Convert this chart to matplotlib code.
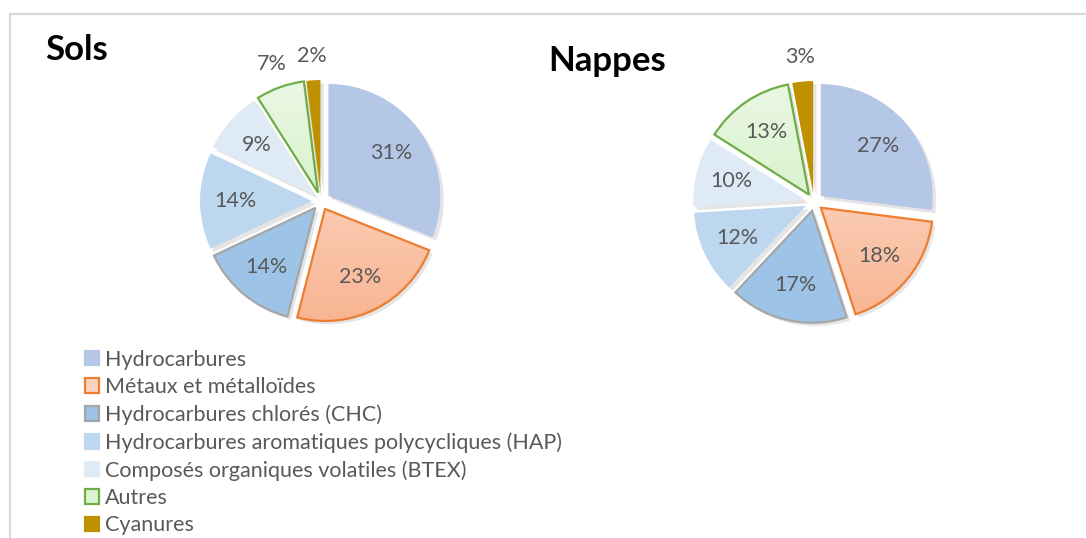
import matplotlib.pyplot as plt
import numpy as np
from matplotlib.patches import Patch, Rectangle
from matplotlib.colors import LinearSegmentedColormap

plt.rcParams['font.family'] = ['Lato', 'DejaVu Sans']

categories = ['Hydrocarbures', 'Métaux et métalloïdes', 'Hydrocarbures chlorés (CHC)',
              'Hydrocarbures aromatiques polycycliques (HAP)',
              'Composés organiques volatiles (BTEX)', 'Autres', 'Cyanures']
sols = [31, 23, 14, 14, 9, 7, 2]
nappes = [27, 18, 17, 12, 10, 13, 3]

colors = ['#B4C7E7', '#FBD3C0', '#9DC3E6', '#BDD7EE', '#DEEBF7', '#DDF3D3', '#BF9000']
edges = ['none', '#ED7D31', '#A6A6A6', 'none', 'none', '#70AD47', 'none']
gradients = {1: ('#FDE6DA', '#F8B28E'), 5: ('#EDF8E7', '#C2EDB0')}

W, H = 1086, 538
fig = plt.figure(figsize=(W / 100, H / 100), dpi=100)

# light frame around the chart (cut on right and bottom)
fig.patches.append(Rectangle((10 / W, -0.1), 1.2, 1 - 14 / H + 0.1, transform=fig.transFigure,
                             fill=False, edgecolor='#D9D9D9', lw=1.6))

R = 112  # pixel radius of a pie
LIM = 1.45


def draw_pie(values, cx, cy):
    half = LIM * R
    ax = fig.add_axes([(cx - half) / W, 1 - (cy + half) / H, 2 * half / W, 2 * half / H])
    explode = [0.08] * len(values)
    # soft shadow
    sh, _ = ax.pie(values, startangle=90, counterclock=False, explode=explode,
                   center=(0.03, -0.03), colors=['#000000'] * len(values),
                   wedgeprops=dict(alpha=0.10, linewidth=0))
    for w in sh:
        w.set_zorder(0.5)
    wedges, texts, autotexts = ax.pie(values, startangle=90, counterclock=False, explode=explode,
                                      colors=colors, autopct='%.0f%%', pctdistance=0.68,
                                      textprops=dict(color='#595959', fontsize=15.5),
                                      wedgeprops=dict(linewidth=1.6))
    for i, w in enumerate(wedges):
        w.set_edgecolor(edges[i])
        w.set_zorder(2)
        if i in gradients:
            cmap = LinearSegmentedColormap.from_list('g', gradients[i])
            grad = np.linspace(0, 1, 256).reshape(-1, 1)
            im = ax.imshow(grad, extent=(-1.2, 1.2, -1.2, 1.2), origin='upper', cmap=cmap,
                           aspect='auto', zorder=1.5)
            im.set_clip_path(w)
            w.set_facecolor('none')
    for v, w, t in zip(values, wedges, autotexts):
        t.set_zorder(3)
        if v <= 7:
            a = np.deg2rad((w.theta1 + w.theta2) / 2)
            t.set_position((1.3 * np.cos(a), 1.3 * np.sin(a)))
    ax.set_xlim(-LIM, LIM)
    ax.set_ylim(-LIM, LIM)
    ax.set_aspect('equal')
    ax.axis('off')
    return wedges


draw_pie(sols, 321, 201)
draw_pie(nappes, 814, 202)

fig.text(45 / W, 1 - 60 / H, 'Sols', fontsize=25, fontweight='bold', va='baseline')
fig.text(548 / W, 1 - 71 / H, 'Nappes', fontsize=25, fontweight='bold', va='baseline')

handles = [Patch(facecolor=c, edgecolor=(e if e != 'none' else c), linewidth=1.6)
           for c, e in zip(colors, edges)]
fig.legend(handles, categories, loc='upper left', bbox_to_anchor=(74 / W, 1 - 339 / H),
           frameon=False, fontsize=15.5, labelcolor='#595959', handlelength=0.65,
           handleheight=0.65, handletextpad=0.3, labelspacing=0.34, borderpad=0)

fig.savefig('out.png', dpi=100)
